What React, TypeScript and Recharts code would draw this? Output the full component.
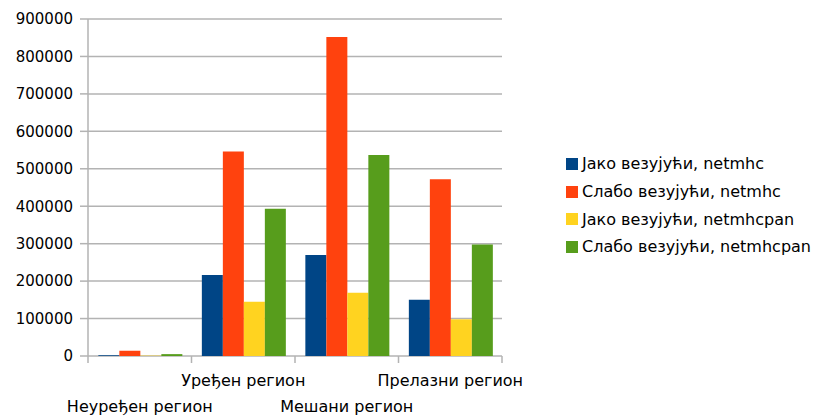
import React from "react";
import { BarChart, Bar, XAxis, YAxis, CartesianGrid } from "recharts";

const categories = ["Неуређен регион", "Уређен регион", "Мешани регион", "Прелазни регион"];
const seriesNames = [
  "Јако везујући, netmhc",
  "Слабо везујући, netmhc",
  "Јако везујући, netmhcpan",
  "Слабо везујући, netmhcpan",
];
const strongNetmhc = [2000, 216000, 270000, 150000];
const weakNetmhc = [14000, 546000, 852000, 472000];
const strongNetmhcpan = [1000, 145000, 169000, 98000];
const weakNetmhcpan = [5000, 393000, 537000, 298000];
const yTicks = [0, 100000, 200000, 300000, 400000, 500000, 600000, 700000, 800000, 900000];

const colors = ["#004586", "#ff420e", "#ffd320", "#579d1c"];
const keys = ["s1", "s2", "s3", "s4"];

const data = categories.map((c, i) => ({
  name: c,
  s1: strongNetmhc[i],
  s2: weakNetmhc[i],
  s3: strongNetmhcpan[i],
  s4: weakNetmhcpan[i],
}));

const FONT = "'DejaVu Sans', sans-serif";
const GRID = "#b3b3b3";

const XTick = (props: any) => {
  const { x, y, payload, index, width } = props;
  const band = (width || 414) / categories.length;
  const left = x - band / 2;
  const isLast = index === categories.length - 1;
  const dy = index % 2 === 1 ? 30 : 56;
  return (
    <g>
      <line x1={left} y1={y} x2={left} y2={y + 7} stroke={GRID} strokeWidth={1.5} />
      {isLast && (
        <line x1={left + band} y1={y} x2={left + band} y2={y + 7} stroke={GRID} strokeWidth={1.5} />
      )}
      <text x={x} y={y + dy} textAnchor="middle" fontFamily={FONT} fontSize={16} fill="#000">
        {payload.value}
      </text>
    </g>
  );
};

export default function App() {
  return (
    <div style={{ position: "absolute", left: 0, top: 0, width: 819, height: 416, background: "#fff" }}>
      <BarChart
        width={819}
        height={416}
        data={data}
        margin={{ top: 19, right: 317, bottom: 0, left: 0 }}
        barCategoryGap="10%"
        barGap={0}
      >
        <CartesianGrid horizontal vertical={false} stroke={GRID} strokeWidth={1.5} />
        <XAxis
          dataKey="name"
          axisLine={false}
          tickLine={false}
          tickSize={0}
          tickMargin={0}
          interval={0}
          tick={<XTick />}
          height={60}
        />
        <YAxis
          width={88}
          domain={[0, 900000]}
          ticks={yTicks}
          interval={0}
          axisLine={{ stroke: GRID, strokeWidth: 1.5 }}
          tickLine={{ stroke: GRID, strokeWidth: 1.5 }}
          tickSize={8}
          tickMargin={7}
          tick={{ fontFamily: FONT, fontSize: 15, fill: "#000" }}
        />
        <YAxis
          yAxisId="r"
          orientation="right"
          width={0}
          domain={[0, 900000]}
          tick={false}
          tickLine={false}
          axisLine={{ stroke: GRID, strokeWidth: 1.5 }}
        />
        {keys.map((k, i) => (
          <Bar key={k} dataKey={k} name={seriesNames[i]} fill={colors[i]} isAnimationActive={false} />
        ))}
      </BarChart>
      <div style={{ position: "absolute", left: 566, top: 150, fontFamily: FONT, fontSize: 16, color: "#000" }}>
        {seriesNames.map((n, i) => (
          <div key={n} style={{ display: "flex", alignItems: "center", height: 27.7, whiteSpace: "nowrap" }}>
            <span style={{ display: "inline-block", width: 12, height: 12, background: colors[i], marginRight: 4 }} />
            <span>{n}</span>
          </div>
        ))}
      </div>
    </div>
  );
}
